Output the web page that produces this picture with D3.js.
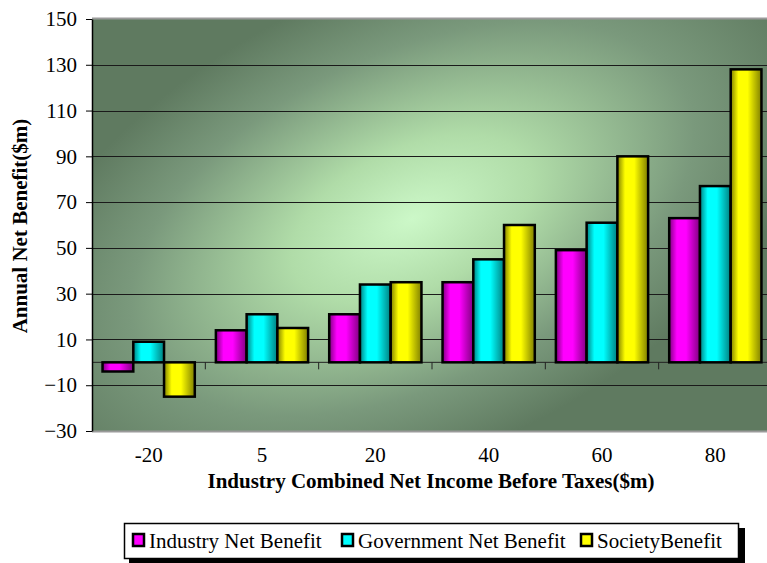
<!DOCTYPE html>
<html>
<head>
<meta charset="utf-8">
<script src="https://cdn.jsdelivr.net/npm/d3@7"></script>
<style>
  body { margin: 0; background: #fff; }
  svg { display: block; font-family: "Liberation Serif", "Times New Roman", serif; }
</style>
</head>
<body>
<svg id="chart" width="767" height="563"></svg>
<script>
// data
const categories = ["-20", "5", "20", "40", "60", "80"];
const seriesNames = ["Industry Net Benefit", "Government Net Benefit", "SocietyBenefit"];
const industry = [-4, 14, 21, 35, 49, 63];
const government = [9, 21, 34, 45, 61, 77];
const society = [-15, 15, 35, 60, 90, 128];
const yTicks = [-30, -10, 10, 30, 50, 70, 90, 110, 130, 150];

const seriesValues = [industry, government, society];
const colors = [
  { base: "#ff00ff", dark: "#800080" },
  { base: "#00ffff", dark: "#008080" },
  { base: "#ffff00", dark: "#808000" }
];

const svg = d3.select("#chart");
const margin = { top: 19, left: 92 };
const plotW = 680, plotH = 412;
const fontSize = 21;

const defs = svg.append("defs");

// plot background: light centre, dark green edges
const bg = defs.append("radialGradient")
  .attr("id", "bg")
  .attr("gradientUnits", "userSpaceOnUse")
  .attr("cx", 320).attr("cy", 200).attr("r", 430)
  .attr("gradientTransform", "translate(320,200) rotate(-25) scale(1,0.55) translate(-320,-200)");
bg.append("stop").attr("offset", "0%").attr("stop-color", "#ccf8c8");
bg.append("stop").attr("offset", "30%").attr("stop-color", "#b0dca8");
bg.append("stop").attr("offset", "70%").attr("stop-color", "#7a997c");
bg.append("stop").attr("offset", "100%").attr("stop-color", "#5f7a60");

// cylinder-ish shading on the bars
colors.forEach((c, i) => {
  const g = defs.append("linearGradient").attr("id", "bar" + i)
    .attr("x1", "0%").attr("x2", "100%").attr("y1", "0%").attr("y2", "0%");
  g.append("stop").attr("offset", "0%").attr("stop-color", c.dark);
  g.append("stop").attr("offset", "25%").attr("stop-color", c.base);
  g.append("stop").attr("offset", "55%").attr("stop-color", c.base);
  g.append("stop").attr("offset", "100%").attr("stop-color", c.dark);
});

const x = d3.scaleBand().domain(categories).range([0, plotW]).paddingInner(0.186).paddingOuter(0.093);
const xs = d3.scaleBand().domain(d3.range(3)).range([0, x.bandwidth()]);
const y = d3.scaleLinear().domain([-30, 150]).range([plotH, 0]);

const g = svg.append("g").attr("transform", `translate(${margin.left},${margin.top})`);

g.append("rect")
  .attr("x", 0).attr("y", 0).attr("width", plotW).attr("height", plotH)
  .attr("fill", "url(#bg)");
// grey frame lines top and bottom
g.append("line").attr("x1", 0).attr("x2", plotW).attr("y1", -0.5).attr("y2", -0.5)
  .attr("stroke", "#9a9a9a").attr("stroke-width", 2);
g.append("line").attr("x1", 0).attr("x2", plotW).attr("y1", plotH + 0.5).attr("y2", plotH + 0.5)
  .attr("stroke", "#9a9a9a").attr("stroke-width", 2);

// gridlines
g.append("g").selectAll("line")
  .data(yTicks.filter(t => t !== -30 && t !== 150))
  .join("line")
  .attr("x1", 0).attr("x2", plotW)
  .attr("y1", d => Math.round(y(d)) + 0.5).attr("y2", d => Math.round(y(d)) + 0.5)
  .attr("stroke", "#1a1a1a").attr("stroke-width", 1);

// zero line with category ticks
g.append("line")
  .attr("x1", 0).attr("x2", plotW)
  .attr("y1", y(0)).attr("y2", y(0))
  .attr("stroke", "#222").attr("stroke-width", 1);
g.append("g").selectAll("line")
  .data(d3.range(1, categories.length))
  .join("line")
  .attr("x1", d => d * plotW / categories.length).attr("x2", d => d * plotW / categories.length)
  .attr("y1", y(0)).attr("y2", y(0) + 7)
  .attr("stroke", "#222").attr("stroke-width", 1);

// bars
seriesValues.forEach((vals, si) => {
  g.append("g").selectAll("rect")
    .data(vals)
    .join("rect")
    .attr("x", (d, i) => x(categories[i]) + xs(si))
    .attr("width", xs.bandwidth())
    .attr("y", d => y(Math.max(0, d)))
    .attr("height", d => Math.abs(y(d) - y(0)))
    .attr("fill", `url(#bar${si})`)
    .attr("stroke", "#000")
    .attr("stroke-width", 2.5);
});

// y axis
const yAxis = g.append("g")
  .attr("font-family", "Liberation Serif, serif")
  .call(d3.axisLeft(y).tickValues(yTicks).tickSize(6).tickSizeOuter(0));
yAxis.attr("font-family", "Liberation Serif, serif");
yAxis.select(".domain").attr("stroke", "#000").attr("stroke-width", 1.5);
yAxis.selectAll(".tick line").attr("stroke", "#000");
yAxis.selectAll(".tick text")
  .attr("font-size", fontSize).attr("fill", "#000").attr("x", -15);

// category labels
g.append("g").selectAll("text")
  .data(categories)
  .join("text")
  .attr("x", d => x(d) + x.bandwidth() / 2)
  .attr("y", plotH + 31)
  .attr("text-anchor", "middle")
  .attr("font-size", fontSize)
  .text(d => d);

// axis titles
svg.append("text")
  .attr("x", 431).attr("y", 488)
  .attr("text-anchor", "middle")
  .attr("font-size", fontSize).attr("font-weight", "bold")
  .text("Industry Combined Net Income Before Taxes($m)");

svg.append("text")
  .attr("transform", "translate(27,226) rotate(-90)")
  .attr("text-anchor", "middle")
  .attr("font-size", fontSize).attr("font-weight", "bold")
  .text("Annual Net Benefit($m)");

// legend
const leg = svg.append("g");
leg.append("rect").attr("x", 129).attr("y", 528).attr("width", 616).attr("height", 35).attr("fill", "#000");
leg.append("rect").attr("x", 124.5).attr("y", 523.5).attr("width", 614).attr("height", 35)
  .attr("fill", "#fff").attr("stroke", "#000").attr("stroke-width", 1.5);

const legX = [132, 341, 580];
seriesNames.forEach((name, i) => {
  leg.append("rect")
    .attr("x", legX[i] + 1).attr("y", 534).attr("width", 11).attr("height", 12)
    .attr("fill", colors[i].base).attr("stroke", "#000").attr("stroke-width", 2.5);
  leg.append("text")
    .attr("x", legX[i] + 17).attr("y", 548)
    .attr("font-size", fontSize)
    .text(name);
});
</script>
</body>
</html>
